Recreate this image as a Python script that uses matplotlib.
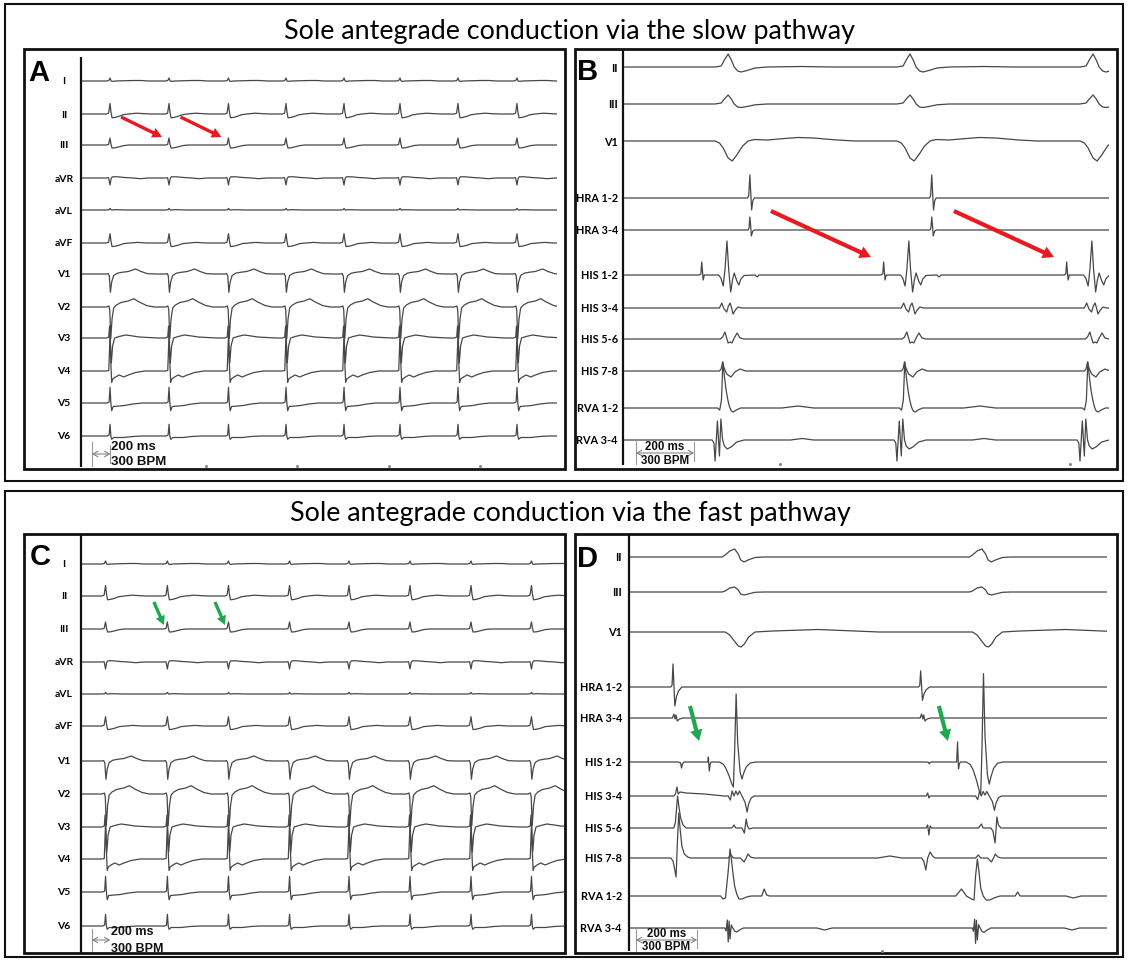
import matplotlib
matplotlib.use("Agg")
import numpy as np
import matplotlib.pyplot as plt
from matplotlib.patches import Rectangle

plt.rcParams['font.family'] = ['Lato', 'DejaVu Sans']

# ======================= DATA =======================
title_slow = "Sole antegrade conduction via the slow pathway"
title_fast = "Sole antegrade conduction via the fast pathway"
panel_letters = ["A", "B", "C", "D"]
leads_12 = ["I", "II", "III", "aVR", "aVL", "aVF", "V1", "V2", "V3", "V4", "V5", "V6"]
ep_channels = ["II", "III", "V1", "HRA 1-2", "HRA 3-4", "HIS 1-2", "HIS 3-4",
               "HIS 5-6", "HIS 7-8", "RVA 1-2", "RVA 3-4"]
scale_text = ["200 ms", "300 BPM"]
scale_bar_ms = 200

# recording windows (ms)
window_A_ms = 5201
window_B_ms = 1672
window_C_ms = 5278
window_D_ms = 1564

# beat (QRS) times, ms from window start
beats_A_ms = [307, 953, 1604, 2234, 2869, 3482, 4117, 4763]
beats_C_ms = [258, 935, 1604, 2273, 2924, 3592, 4260, 4922]
v_B_ms = [314, 941, 1572]           # ventricular activation (panel B)
a_D_ms = [144, 956]                 # atrial activation (panel D)
h_D_ms = [259, 1075]                # His / fast-pathway deflection (panel D)
v_D_ms = [317, 1128]                # ventricular activation (panel D)
second_ticks_A_ms = [1358, 2358, 3358, 4358]
second_ticks_B_ms = [538, 1538]
second_ticks_D_ms = [826]

# ---- 12-lead complex templates: (ms from QRS, amplitude) ----
lead_I = [(-40, 0), (-14, 0.5), (0, 3), (12, 0), (25, -0.4), (60, 0), (250, 0.5), (340, 0.5), (420, 0)]
lead_II = [(-40, 0), (-16, 0.8), (0, 10.5), (10, 2), (22, -3.8), (55, -3.4), (95, -2.4), (140, -0.8),
           (200, 0), (290, 0.8), (380, 0.3), (450, 0)]
lead_III = [(-40, 0), (-16, 0.5), (0, 7), (10, 1), (22, -3), (55, -2.8), (100, -1.8), (150, -0.6), (210, 0)]
lead_aVR = [(-40, 0), (-16, 0.3), (0, -7), (12, -0.5), (25, 1.2), (80, 1.2), (160, 0.5), (250, 0),
            (330, -0.7), (420, 0)]
lead_aVL = [(-40, 0), (-10, 0.3), (0, 1.6), (14, 0), (60, 0.3), (200, 0)]
lead_aVF = [(-40, 0), (-16, 0.8), (0, 9.3), (10, 2), (22, -3.6), (55, -3.2), (100, -2.2), (150, -0.6),
            (220, 0), (300, 0.6), (400, 0)]
lead_V1 = [(-40, 0), (-20, 0.4), (-8, -2), (4, -18.3), (18, -8), (40, -1.5), (80, 0.8), (130, 1.7),
           (200, 2.5), (280, 5), (340, 2.5), (410, 0.3), (500, 0)]
lead_V2 = [(-40, 0), (-12, 1), (-3, -3), (8, -31.7), (22, -12), (40, -1), (70, 2), (120, 4.5),
           (200, 6), (260, 8.3), (320, 5), (400, 1.5), (480, 0)]
lead_V3 = [(-40, 0), (-14, 1), (-5, 12), (4, -5), (14, -25), (28, -8), (50, 0), (100, 1.5), (170, 3),
           (250, 2), (320, 1), (420, 0.5), (520, 0)]
lead_V4 = [(-40, 0), (-14, 0.5), (0, 36), (8, 10), (18, -11.5), (30, -8), (60, -6), (100, -4),
           (150, -6), (200, -4), (280, -1.5), (380, 0)]
lead_V5 = [(-30, 0), (-10, 1), (0, 15.7), (9, 0), (18, -7.7), (35, -3.5), (100, -3), (160, -2.5),
           (250, -1), (350, 0)]
lead_V6 = [(-30, 0), (-10, 1), (0, 11.7), (9, 0), (18, -3.3), (40, -1.5), (150, -1.5), (250, -0.5), (350, 0)]

# ---- panel B templates (ms from ventricular activation) ----
B_II = [(0, 0), (21, 1), (32, 7), (45, 13), (56, 7), (66, 0), (78, -4), (90, -5), (110, -3.5),
        (138, -1), (180, 0), (300, 0.5), (400, 0)]
B_III = [(0, 0), (21, 1), (32, 5), (45, 9), (56, 5), (66, 0), (78, -3), (90, -3.5), (110, -2.5),
         (138, -0.8), (180, 0)]
B_V1 = [(0, 0), (15, -2), (28, -7), (45, -17), (59, -20), (75, -14), (95, -5), (114, 0), (135, 1.5),
        (180, 1), (240, 2.5), (286, 3.5), (340, 3), (420, 1), (483, 0)]
B_HRA12 = [(112, 0), (116, 2), (120, 23), (123, 5), (126, -12), (130, -3), (135, 0)]
B_HRA34 = [(114, 0), (117, 2), (120, 13), (123, 3), (125, -6), (130, -1), (136, 0)]
B_HIS12 = [(-55, 0), (-49, 1), (-46, 13), (-43, 2), (-41, -5), (-37, 0), (12, 0), (20, -3), (28, -11),
           (34, 5), (41, 34), (47, 5), (54, -17), (60, -5), (66, 2), (75, -6), (82, -10), (89, -4),
           (100, -0.5), (138, 0), (145, -2), (152, 0)]
B_HIS34 = [(15, 0), (23, 5), (31, -1), (40, -4), (46, 2), (52, 5), (57, 0), (62, -6), (70, -2), (79, 1), (92, 0)]
B_HIS56 = [(18, 0), (26, 2), (34, 7), (40, 1), (45, -4), (52, -3), (58, -4), (66, 1), (76, 6), (86, 1), (100, 0)]
B_HIS78 = [(15, 0), (21, 2), (26, 9), (31, 3), (40, -3), (55, -6), (68, -1), (86, 2), (105, 0)]
B_RVA12 = [(8, 0), (16, -2), (22, 8), (27, 46), (32, 32), (38, 18), (44, 8), (50, 1), (56, -3),
           (63, -4), (73, -2), (88, 0), (230, 0), (286, 2), (340, 0)]
B_RVA34 = [(-10, 0), (-4, -3), (0, -21), (8, 19), (15, -16), (20, 21), (26, 0), (32, -6), (42, -9),
           (55, -7), (75, -2), (100, 0), (260, 0), (300, 1.5), (340, 0)]

# ---- panel D templates ----
D_II = [(-15, 0), (-5, 2), (10, 6), (26, 8), (38, 3), (46, -3), (57, -5), (70, -3), (93, -0.5), (120, 0)]
D_III = [(-15, 0), (-5, 1), (10, 4), (26, 5), (38, 2), (46, -2), (57, -3), (70, -2), (93, -0.3), (120, 0)]
D_V1 = [(-5, 0), (10, -3), (25, -9), (38, -14), (47, -15), (58, -12), (72, -5), (93, 0), (150, 1),
        (300, 2.5), (420, 1), (500, 0)]
D_HRA12 = [(-10, 0), (-6, 2), (-3, 23), (0, 2), (3, -19), (8, -10), (15, -4), (26, 0)]
D_HRA34 = [(-5, 0), (0, 4), (4, -1), (7, 3), (11, -3), (18, -1), (30, 0)]
D_HIS12_A = [(15, 0), (22, -1), (25, -6), (28, -2), (33, 0)]
D_HIS12_H1 = [(-4, 0), (-2, 5), (1, -9), (4, -2), (7, 0)]
D_HIS12_H2 = [(-4, 0), (-1, 20), (2, -7), (5, -2), (8, 0)]
D_HIS12_V = [(-25, 0), (-12, -2), (-3, -6), (8, -14), (17, -22), (22, -25), (26, 10), (31, 68), (36, 20),
             (44, -10), (50, -17), (56, -11), (64, -5), (77, -1), (95, 0)]
D_HIS34_A1 = [(0, 0), (5, 2), (10, 9), (14, 2), (20, 4), (40, 3), (100, 2), (165, 0)]
D_HIS34_A2 = [(15, 0), (20, 3), (24, -2), (28, 0)]
D_HIS34_V = [(5, 0), (12, -4), (18, 5), (24, 0), (30, 5), (36, 1), (42, 5), (50, 0), (60, -6), (67, -16),
             (72, -8), (80, -2), (90, 0)]
D_HIS56_A1 = [(0, 0), (5, 6), (12, 32), (16, 22), (22, 10), (30, 3), (40, 0)]
D_HIS56_A2 = [(15, 0), (20, 3), (24, -7), (28, 2), (33, 0)]
D_HIS56_V1 = [(15, 0), (20, 1), (24, 3), (30, 0), (50, 0), (58, -5), (64, 9), (68, 2), (74, -1), (85, 0)]
D_HIS56_V2 = [(15, 0), (24, 4), (30, 0), (55, 0), (62, -3), (69, -15), (75, 11), (80, 3), (88, 0)]
D_HIS78_A1 = [(-10, 0), (-3, -3), (3, -12), (7, -19), (12, 20), (16, 45), (20, 30), (26, 12), (34, 4),
              (45, 1), (55, 0)]
D_HIS78_A2 = [(0, 0), (7, -3), (14, -12), (20, 0), (28, 6), (36, 2), (44, 0)]
D_HIS78_V = [(5, 0), (14, 3), (22, 0), (45, 0), (57, -4), (64, 0), (70, 4), (78, 1), (90, 0)]
D_HIS78_bump = [(-40, 0), (0, 2), (40, 0)]
D_RVA12_V1 = [(-20, 0), (-12, -3), (-4, -2), (5, 25), (11, 47), (15, 38), (20, 24), (26, 10), (33, 2),
              (40, -3), (50, -3), (65, -1), (80, 0), (115, 0), (123, 7), (131, 1), (140, 0)]
D_RVA12_V2 = [(-60, 0), (-41, 7), (-25, 0), (-8, -3), (0, -4), (5, 20), (11, 37), (16, 25), (22, 8),
              (30, 0), (40, -4), (52, -4), (65, -2), (85, 0), (135, 0), (143, 4), (151, 0)]
D_RVA34_V = [(-6, 0), (-2, -3), (2, 8), (5, -14), (8, 7), (11, -11), (15, 3), (20, 0), (26, -3),
             (33, -4), (42, -2), (55, 0)]
D_small_dip = [(-25, 0), (0, -2), (25, 0)]

# ======================= LAYOUT =======================
W, H = 1128, 962
TRACE = '#474747'
RED = '#e8191f'
GREEN = '#1fa84f'

fig = plt.figure(figsize=(W / 100, H / 100), dpi=100)
fig.patch.set_facecolor('white')
ov = fig.add_axes([0, 0, 1, 1])
ov.set_xlim(0, W)
ov.set_ylim(H, 0)
ov.axis('off')


def panel_axes(x0, x1, y0, y1, dur):
    ax = fig.add_axes([x0 / W, 1 - y1 / H, (x1 - x0) / W, (y1 - y0) / H])
    ax.set_xlim(0, dur)
    ax.set_ylim(y1, y0)
    ax.axis('off')
    ax.patch.set_alpha(0)
    return ax


def build(events):
    pts = [(-1e5, 0.0), (1e5, 0.0)]
    for t0, tpl, g in events:
        pts += [(t0 + dt, g * v) for dt, v in tpl]
    pts.sort(key=lambda p: p[0])
    return np.array([p[0] for p in pts]), np.array([p[1] for p in pts])


def draw_channels(ax, events_list, baselines):
    for ev, base in zip(events_list, baselines):
        t, v = build(ev)
        ax.plot(t, base - v, color=TRACE, lw=0.9, solid_joinstyle='round')


def fat_arrow(ax, head, tail, color, tw, hw, hl):
    ax.annotate('', xy=head, xytext=tail, xycoords='data', textcoords='data',
                annotation_clip=False,
                arrowprops=dict(arrowstyle=f'simple,head_length={hl},head_width={hw},tail_width={tw}',
                                color=color, lw=0, shrinkA=0, shrinkB=0, mutation_scale=10))


def scale_bar(ax, t0, y_tick0, y_tick1, y_arrow, y_txt1, y_txt2, fs, centered, right_tick=True):
    ax.plot([t0, t0], [y_tick0, y_tick1], color='#9a9a9a', lw=0.8, clip_on=False)
    if right_tick:
        ax.plot([t0 + scale_bar_ms] * 2, [y_tick0 + 3, y_tick1 - 3], color='#9a9a9a', lw=0.8, clip_on=False)
    ax.annotate('', xy=(t0, y_arrow), xytext=(t0 + scale_bar_ms, y_arrow), annotation_clip=False,
                arrowprops=dict(arrowstyle='<->,head_length=0.35,head_width=0.2', color='#777777',
                                lw=0.7, shrinkA=0, shrinkB=0))
    if centered:
        xt, ha = t0 + scale_bar_ms / 2, 'center'
    else:
        xt, ha = t0 + scale_bar_ms * 1.02, 'left'
    for txt, yy in zip(scale_text, [y_txt1, y_txt2]):
        ax.text(xt, yy, txt, ha=ha, va='center', fontsize=fs, fontweight='bold',
                family=['Liberation Sans', 'DejaVu Sans'], color='#111111')


def second_dots(ax, ticks, y):
    ax.plot(ticks, [y] * len(ticks), ls='none', marker='o', ms=1.2, color='#888888', clip_on=False)


# ---------- frames ----------
for (x0, y0, x1, y1) in [(5, 5, 1123, 482), (5, 492, 1123, 958)]:
    ov.add_patch(Rectangle((x0, y0), x1 - x0, y1 - y0, fill=False, ec='#111111', lw=1.5))
panel_boxes = {"A": (24, 50, 565, 470), "B": (575, 50, 1117, 470),
               "C": (24, 535, 565, 954), "D": (575, 535, 1117, 954)}
for k, (x0, y0, x1, y1) in panel_boxes.items():
    ov.add_patch(Rectangle((x0, y0), x1 - x0, y1 - y0, fill=False, ec='#111111', lw=2.0))

# vertical lead-label separators
for x, y0, y1 in [(81, 58, 468), (623, 51, 466), (81, 536, 954), (629, 536, 952)]:
    ov.plot([x, x], [y0, y1], color='#111111', lw=1.6, solid_capstyle='butt')

# ---------- titles ----------
t1 = ov.text(570, 39.5, title_slow, ha='center', va='baseline', fontsize=18, family=['Lato', 'DejaVu Sans'])
fig.canvas.draw()
fs_title = 18 * 570 / t1.get_window_extent().width
t1.set_fontsize(fs_title)
ov.text(570, 521, title_fast, ha='center', va='baseline', fontsize=fs_title, family=['Lato', 'DejaVu Sans'])

# ---------- panel letters ----------
for letter, (x, y) in zip(panel_letters, [(28, 73), (577, 72), (30, 557), (577, 559)]):
    ov.text(x, y, letter, ha='left', va='center', fontsize=21, fontweight='bold',
            family=['Liberation Sans', 'DejaVu Sans'])

# ---------- lead labels ----------
base_A = [82, 115, 146, 179, 211, 244, 275, 308, 339, 372, 404, 437]
base_C = [565, 597, 630, 663, 695, 727, 762, 795, 828, 860, 893, 927]
base_B = [68, 105, 142, 199, 231, 276, 309, 340, 372, 409, 441]
base_D = [558, 593, 633, 688, 719, 763, 797, 829, 859, 897, 929]
for name, ya, yc in zip(leads_12, base_A, base_C):
    for yy in (ya, yc):
        ov.text(64, yy, name, ha='center', va='center', fontsize=7.5, fontweight='bold')
for name, yb, yd in zip(ep_channels, base_B, base_D):
    ov.text(618, yb, name, ha='right', va='center', fontsize=7.8, fontweight='bold')
    ov.text(622, yd, name, ha='right', va='center', fontsize=7.8, fontweight='bold')

# ---------- 12-lead panels (A, C) ----------
lead_templates = [lead_I, lead_II, lead_III, lead_aVR, lead_aVL, lead_aVF,
                  lead_V1, lead_V2, lead_V3, lead_V4, lead_V5, lead_V6]
axA = panel_axes(82, 557, 50, 470, window_A_ms)
draw_channels(axA, [[(b, tpl, 1.0) for b in beats_A_ms] for tpl in lead_templates], base_A)
axC = panel_axes(82, 564, 535, 954, window_C_ms)
draw_channels(axC, [[(b, tpl, 1.0) for b in beats_C_ms] for tpl in lead_templates], base_C)

mspp_AC = window_A_ms / (557 - 82)
for b in beats_A_ms[1:3]:
    head = (b - 7 * mspp_AC, base_A[2] - 8)
    fat_arrow(axA, head, (head[0] - 41 * mspp_AC, head[1] - 20), RED, 0.24, 0.75, 0.7)
for b in beats_C_ms[1:3]:
    head = (b - 3.5 * mspp_AC, base_C[2] - 4)
    fat_arrow(axC, head, (head[0] - 10 * mspp_AC, head[1] - 23), GREEN, 0.24, 0.7, 0.65)

scale_bar(axA, 10 * mspp_AC, 443, 467, 455, 447, 462, 9.5, False)
scale_bar(axC, 10 * mspp_AC, 930, 952, 941, 932, 949, 9.0, False, right_tick=False)
second_dots(axA, second_ticks_A_ms, 467)

# ---------- panel B ----------
B_templates = [B_II, B_III, B_V1, B_HRA12, B_HRA34, B_HIS12, B_HIS34, B_HIS56, B_HIS78, B_RVA12, B_RVA34]
axB = panel_axes(624, 1109, 50, 470, window_B_ms)
draw_channels(axB, [[(v, tpl, 1.0) for v in v_B_ms] for tpl in B_templates], base_B)
mspp_B = window_B_ms / (1109 - 624)
for v in v_B_ms[1:3]:
    head = (v - 45 - 13 * mspp_B, base_B[5] - 18)
    fat_arrow(axB, head, (head[0] - 100 * mspp_B, head[1] - 46), RED, 0.3, 0.9, 0.8)
scale_bar(axB, 12 * mspp_B, 440, 465, 454, 447, 461, 8.3, True)
second_dots(axB, second_ticks_B_ms, 465)

# ---------- panel D ----------
events_D = [
    [(t, D_II, 1.0) for t in v_D_ms],
    [(t, D_III, 1.0) for t in v_D_ms],
    [(t, D_V1, 1.0) for t in v_D_ms],
    [(t, D_HRA12, g) for t, g in zip(a_D_ms, [1.0, 0.7])],
    [(t, D_HRA34, 1.0) for t in a_D_ms],
    [(a_D_ms[0], D_HIS12_A, 1.0), (a_D_ms[1], D_HIS12_A, 0.3),
     (h_D_ms[0], D_HIS12_H1, 1.0), (h_D_ms[1], D_HIS12_H2, 1.0),
     (v_D_ms[0], D_HIS12_V, 1.0), (v_D_ms[1], D_HIS12_V, 1.3)],
    [(a_D_ms[0], D_HIS34_A1, 1.0), (a_D_ms[1], D_HIS34_A2, 1.0),
     (v_D_ms[0], D_HIS34_V, 1.0), (v_D_ms[1], D_HIS34_V, 0.9)],
    [(a_D_ms[0], D_HIS56_A1, 1.0), (a_D_ms[1], D_HIS56_A2, 1.0),
     (v_D_ms[0], D_HIS56_V1, 1.0), (v_D_ms[1], D_HIS56_V2, 1.0)],
    [(a_D_ms[0], D_HIS78_A1, 1.0), (a_D_ms[1], D_HIS78_A2, 1.0),
     (v_D_ms[0], D_HIS78_V, 1.0), (v_D_ms[1], D_HIS78_V, 1.0), (852, D_HIS78_bump, 1.0)],
    [(v_D_ms[0], D_RVA12_V1, 1.0), (v_D_ms[1], D_RVA12_V2, 1.0), (1454, D_small_dip, 1.0)],
    [(v_D_ms[0], D_RVA34_V, 1.0), (v_D_ms[1], D_RVA34_V, 1.1),
     (638, D_small_dip, 1.0), (1449, D_small_dip, 1.0)],
]
axD = panel_axes(630, 1107, 535, 954, window_D_ms)
draw_channels(axD, events_D, base_D)
mspp_D = window_D_ms / (1107 - 630)
for h in h_D_ms:
    head = (h - 10 * mspp_D, base_D[5] - 21)
    fat_arrow(axD, head, (head[0] - 9 * mspp_D, head[1] - 35), GREEN, 0.3, 0.9, 0.8)
scale_bar(axD, 6 * mspp_D, 928, 952, 941, 934, 947, 8.3, True)
second_dots(axD, second_ticks_D_ms, 952)

fig.savefig('out.png', dpi=100, facecolor='white')
